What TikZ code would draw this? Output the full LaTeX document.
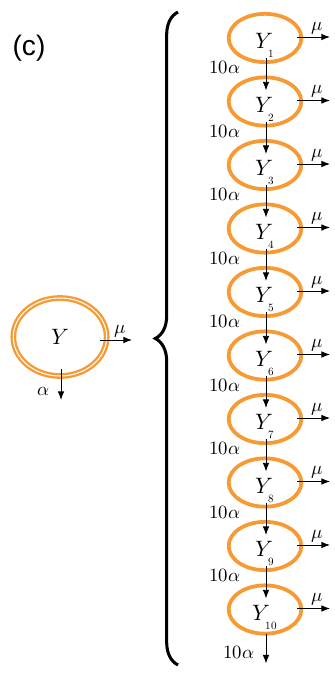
\documentclass[tikz,border=0pt]{standalone}
\usepackage{amsmath}
\usepackage{fontspec}
\usepackage{unicode-math}
\setmathfont{Latin Modern Math}
\usepackage{tikz}
\usetikzlibrary{arrows.meta,calc,positioning,decorations.pathreplacing,shapes.geometric}
\definecolor{ringorange}{HTML}{F79A33}
\newfontfamily\tagsans{Liberation Sans}

\begin{document}
\begin{tikzpicture}[x=0.03cm,y=-0.03cm,>=Latex,
  pool/.style={ellipse,draw=ringorange,line width=3.2pt,minimum width=2.18cm,minimum height=1.45cm,inner sep=0pt,text height=18pt,text depth=0pt,font=\fontsize{19}{22}\selectfont},
  bigpool/.style={ellipse,draw=ringorange,line width=2pt,double=white,double distance=0.9pt,minimum width=2.8cm,minimum height=2.34cm,inner sep=0pt,font=\fontsize{19}{22}\selectfont},
  flow/.style={->,line width=0.8pt,>={Latex[length=2.6mm,width=2mm]}},
  rate/.style={font=\fontsize{16}{18}\selectfont,inner sep=1pt}]
  \useasboundingbox (0,0) rectangle (334,675);
  \node[font=\tagsans\fontsize{24}{28}\selectfont] (tag) at (29,48) {(c)};
  % single pool
  \node[bigpool] (y) at (60,337) {$Y$};
  \coordinate (mu) at (132,340);
  \coordinate (alpha) at (61,400);
  \draw[flow] ($(y.east)+(-8,3)$) -- (mu) node[rate,pos=0.62,above=1pt] {$\mu$};
  \draw[flow] ($(y.south)+(1,-8)$) -- (alpha) node[rate,pos=0.72,left=0.3cm] {$\alpha$};
  % brace
  \draw[line width=2.6pt,decorate,decoration={brace,amplitude=0.68cm}] (178,665) -- (178,12);
  % chain of pools
  \foreach \i in {1,...,10}{
    \node[pool] (y\i) at (265,{38+63.5*(\i-1)}) {$Y_{\lower3pt\hbox{$\scriptscriptstyle\i$}}$};
    \coordinate (mu\i) at ($(y\i.center)+(65,-1)$);
    \draw[flow] ($(y\i.east)+(-6,-1)$) -- (mu\i) node[rate,pos=0.6,above=1pt] {$\mu$};
  }
  \foreach \i [evaluate=\i as \j using int(\i+1)] in {1,...,9}{
    \draw[flow] ($(y\i.south)+(1,-6)$) -- ($(y\j.north)+(1,15)$) node[rate,pos=0.3,anchor=east,xshift=-0.72cm] {$10\alpha$};
  }
  \coordinate (out10) at ($(y10.south)+(1,28)$);
  \draw[flow] ($(y10.south)+(1,-2)$) -- (out10) node[rate,pos=0.62,anchor=east,xshift=-0.3cm] {$10\alpha$};
\end{tikzpicture}
\end{document}
